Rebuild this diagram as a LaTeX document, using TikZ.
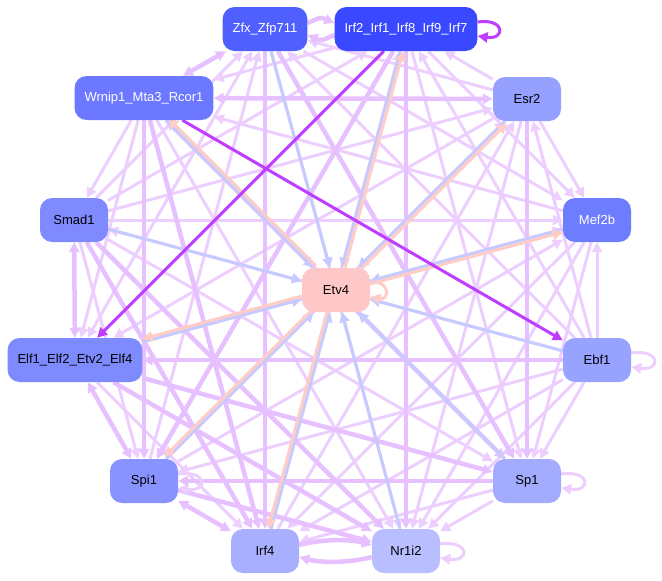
\documentclass[tikz,border=0pt]{standalone}
\usepackage{fontspec}
\setmainfont{Liberation Sans}
\usepackage{tikz}
\usepackage{xcolor}
\usetikzlibrary{arrows.meta, positioning}

\definecolor{edgelight}{HTML}{EDCFFF}
\definecolor{edgemid}{HTML}{E7C0FF}
\definecolor{edgeblue}{HTML}{C6CBFF}
\definecolor{edgepink}{HTML}{FFCDC6}
\definecolor{edgedark}{HTML}{BF3DFF}

\pgfdeclarelayer{bg}
\pgfsetlayers{bg,main}

\tikzset{
  gene/.style={rectangle, rounded corners=12pt, minimum width=68pt, minimum height=44pt,
    inner xsep=10pt, font=\fontsize{13}{15}\selectfont},
  wk/.style={edgelight, line width=3pt},
  st/.style={edgemid, line width=4.5pt},
  tf/.style={edgeblue, line width=3pt},
  bk/.style={edgepink, line width=3pt},
  hi/.style={edgedark, line width=3pt},
  >={Triangle[length=10pt,width=10pt]}
}

% loop on the right side of a node
\newcommand{\rightloop}[3][30pt]{%
  \draw[#2,->] ([yshift=7pt]#3.east) .. controls +(#1,4pt) and +(#1,-4pt) .. ([yshift=-7pt]#3.east);}

\begin{document}
\begin{tikzpicture}[x=1pt,y=-1pt]
\useasboundingbox (0,0) rectangle (662,581);

% Nodes
\node[gene, fill={rgb,255:red,80;green,96;blue,255}, text=white] (Z) at (265,29) {Zfx\_Zfp711};
\node[gene, fill={rgb,255:red,58;green,72;blue,255}, text=white] (I2) at (406,29) {Irf2\_Irf1\_Irf8\_Irf9\_Irf7};
\node[gene, fill={rgb,255:red,107;green,120;blue,255}, text=white] (W) at (144,98) {Wrnip1\_Mta3\_Rcor1};
\node[gene, fill={rgb,255:red,149;green,160;blue,255}] (E) at (527,99) {Esr2};
\node[gene, fill={rgb,255:red,127;green,138;blue,255}] (D) at (74,220) {Smad1};
\node[gene, fill={rgb,255:red,110;green,124;blue,255}, text=white] (M) at (597,220) {Mef2b};
\node[gene, fill={rgb,255:red,255;green,200;blue,200}] (T) at (336,290) {Etv4};
\node[gene, fill={rgb,255:red,126;green,139;blue,255}] (L) at (75,360) {Elf1\_Elf2\_Etv2\_Elf4};
\node[gene, fill={rgb,255:red,152;green,162;blue,255}] (B) at (597,360) {Ebf1};
\node[gene, fill={rgb,255:red,136;green,147;blue,255}] (P) at (144,481) {Spi1};
\node[gene, fill={rgb,255:red,163;green,171;blue,255}] (S) at (527,481) {Sp1};
\node[gene, fill={rgb,255:red,168;green,175;blue,255}] (I4) at (265,551) {Irf4};
\node[gene, fill={rgb,255:red,184;green,190;blue,255}] (N) at (406,551) {Nr1i2};

\begin{pgfonlayer}{bg}
% weak links between the outer genes
\foreach \a/\b/\s in {E/Z/->, Z/M/->, B/Z/->, Z/N/->, P/Z/->, Z/L/<->, D/Z/->,
    E/I2/->, I2/M/->, B/I2/->, I2/S/->, I4/I2/->, D/I2/->, I2/W/->,
    E/M/->, B/E/->, E/N/->, I4/E/->, P/E/->, E/L/->, D/E/->,
    B/M/->, M/S/->, M/N/->, M/I4/->, P/M/->, L/M/->, D/M/->, M/W/->,
    B/S/->, B/N/->, B/I4/->, B/P/->, B/D/->,
    S/N/->, S/I4/->, D/S/->, S/W/->,
    W/N/->, L/I4/->, D/P/->, W/L/->, W/D/->}
  \draw[wk,\s] (\a) -- (\b);

% strong links
\foreach \a/\b/\s in {W/S/->, L/S/->, P/N/->, D/I4/->, Z/I4/->, I2/N/->, W/P/->,
    E/S/->, W/I4/->, D/N/->, L/N/->, B/L/->, S/P/->, I2/P/->, Z/S/->,
    D/L/<->, L/P/<->, P/I4/<->, W/E/<->, Z/W/<->}
  \draw[st,\s] (\a) -- (\b);

% paired links
\draw[st,->] ([yshift=6pt]Z.east) .. controls +(14pt,6pt) and +(-14pt,6pt) .. ([yshift=6pt]I2.west);
\draw[st,->] ([yshift=-6pt]I2.west) .. controls +(-14pt,-6pt) and +(14pt,-6pt) .. ([yshift=-6pt]Z.east);
\draw[st,->] ([yshift=6pt]I4.east) .. controls +(22pt,6pt) and +(-22pt,6pt) .. ([yshift=6pt]N.west);
\draw[st,->] ([yshift=-6pt]N.west) .. controls +(-22pt,-6pt) and +(22pt,-6pt) .. ([yshift=-6pt]I4.east);

% self loops
\rightloop{wk}{B}
\rightloop{wk}{S}
\rightloop{wk}{N}
\rightloop{wk}{P}

% into Etv4
\foreach \a in {Z, I2, W, E, D, M, L, B, P, S, I4, N}
  \draw[tf,->] (\a) -- (T);

% out of Etv4
\foreach \b/\dx/\dy in {I2/3/0, W/2/2, E/2/-2, M/0/-3, L/0/3, P/-2/2, I4/-3/0}
  \draw[bk,->,transform canvas={xshift=\dx pt, yshift=\dy pt}] (T) -- (\b);
\rightloop[20pt]{bk}{T}

% strongest links
\draw[hi,->] (I2) -- (L);
\draw[hi,->] (W) -- (B);
\rightloop[28pt]{hi}{I2}
\end{pgfonlayer}
\end{tikzpicture}
\end{document}
